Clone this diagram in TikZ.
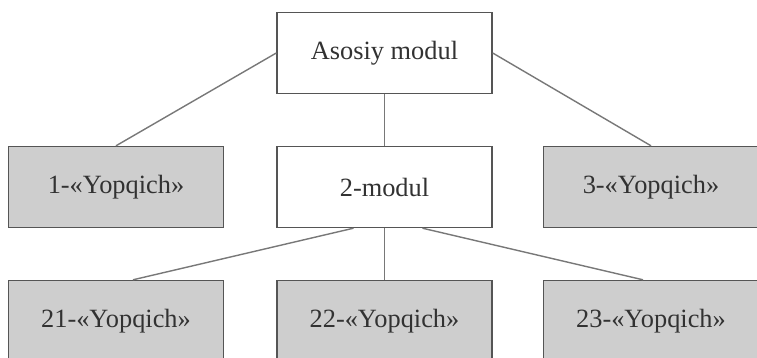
\documentclass[tikz,border=0pt]{standalone}
\usepackage{fontspec}
\setmainfont{Liberation Serif}
\definecolor{boxgray}{RGB}{206,206,206}
\definecolor{edgegray}{RGB}{85,85,85}
\definecolor{linegray}{RGB}{120,120,120}
\definecolor{textgray}{RGB}{50,50,50}
\begin{document}
\begin{tikzpicture}[x=1cm,y=1cm,
  modbox/.style={draw=edgegray, line width=0.8pt, fill=white, text=textgray, minimum width=4.3cm, minimum height=1.62cm, font=\fontsize{15}{18}\selectfont},
  stubbox/.style={modbox, fill=boxgray},
  link/.style={draw=linegray, line width=0.8pt}]
\useasboundingbox (0,0) rectangle (15.14,-7.16);
\clip (0,0) rectangle (15.14,-7.16);
\node[modbox] (main) at (7.69,-1.06) {Asosiy modul};
\node[stubbox] (y1) at (2.32,-3.74) {1-«Yopqich»};
\node[modbox] (m2) at (7.69,-3.74) {2-modul};
\node[stubbox] (y3) at (13.02,-3.74) {3-«Yopqich»};
\node[stubbox] (y21) at (2.32,-6.42) {21-«Yopqich»};
\node[stubbox] (y22) at (7.69,-6.42) {22-«Yopqich»};
\node[stubbox] (y23) at (13.02,-6.42) {23-«Yopqich»};
\draw[link] (main.west) -- (y1.north);
\draw[link] (main.east) -- (y3.north);
\draw[link] (main.south) -- (m2.north);
\draw[link] ([xshift=-0.62cm]m2.south) -- ([xshift=0.34cm]y21.north);
\draw[link] (m2.south) -- (y22.north);
\draw[link] ([xshift=0.76cm]m2.south) -- ([xshift=-0.16cm]y23.north);
\end{tikzpicture}
\end{document}
